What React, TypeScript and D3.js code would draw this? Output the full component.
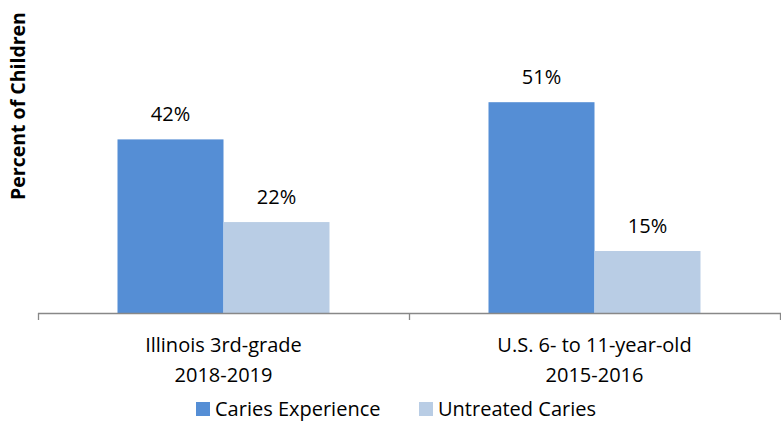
import React from "react";
import * as d3 from "d3";

const categories = ["Illinois 3rd-grade\n2018-2019", "U.S. 6- to 11-year-old\n2015-2016"];
const seriesNames = ["Caries Experience", "Untreated Caries"];
const cariesExperience = [42, 51];
const untreatedCaries = [22, 15];
const seriesColors = ["#558ED5", "#B9CDE5"];

const W = 781;
const H = 421;
const FONT = "'Open Sans', sans-serif";

export default function App() {
  const x0 = d3.scaleBand<string>().domain(categories).range([38, 780]).padding(0);
  const x1 = d3.scaleBand<string>().domain(seriesNames).range([0, x0.bandwidth()]).paddingInner(0).paddingOuter(0.75);
  const y = d3.scaleLinear().domain([0, 60]).range([313, 65]);
  const values = [cariesExperience, untreatedCaries];
  const baseY = y(0);
  const ticks = [38, ...categories.map((c) => (x0(c) as number) + x0.bandwidth())];

  return (
    <div style={{ position: "fixed", left: 0, top: 0 }}>
      <svg width={W} height={H} style={{ display: "block", background: "#fff" }}>
        <text
          transform={`translate(25,106) rotate(-90)`}
          textAnchor="middle"
          fontFamily={FONT}
          fontWeight="bold"
          fontSize={19.5}
          fill="#000"
        >
          Percent of Children
        </text>
        {categories.map((c, ci) =>
          seriesNames.map((s, si) => {
            const v = values[si][ci];
            const bx = (x0(c) as number) + (x1(s) as number);
            return (
              <g key={c + s}>
                <rect x={bx} y={y(v)} width={x1.bandwidth()} height={baseY - y(v)} fill={seriesColors[si]} />
                <text x={bx + x1.bandwidth() / 2} y={y(v) - 18} textAnchor="middle" fontFamily={FONT} fontSize={20} fill="#000">
                  {v}%
                </text>
              </g>
            );
          })
        )}
        <line x1={38} x2={781} y1={baseY + 0.5} y2={baseY + 0.5} stroke="#888" strokeWidth={1.3} />
        {ticks.map((t) => (
          <line key={t} x1={t + 0.5} x2={t + 0.5} y1={baseY} y2={baseY + 7} stroke="#888" strokeWidth={1.3} />
        ))}
        {categories.map((c) => {
          const cx = (x0(c) as number) + x0.bandwidth() / 2;
          return (
            <text key={c} textAnchor="middle" fontFamily={FONT} fontSize={20} fill="#000">
              {c.split("\n").map((line, i) => (
                <tspan key={i} x={cx} y={352 + i * 30}>
                  {line}
                </tspan>
              ))}
            </text>
          );
        })}
        {seriesNames.map((s, i) => {
          const lx = [196, 419][i];
          return (
            <g key={s}>
              <rect x={lx} y={402} width={14} height={14} fill={seriesColors[i]} />
              <text x={lx + 19} y={416} fontFamily={FONT} fontSize={20} fill="#000">
                {s}
              </text>
            </g>
          );
        })}
      </svg>
    </div>
  );
}
